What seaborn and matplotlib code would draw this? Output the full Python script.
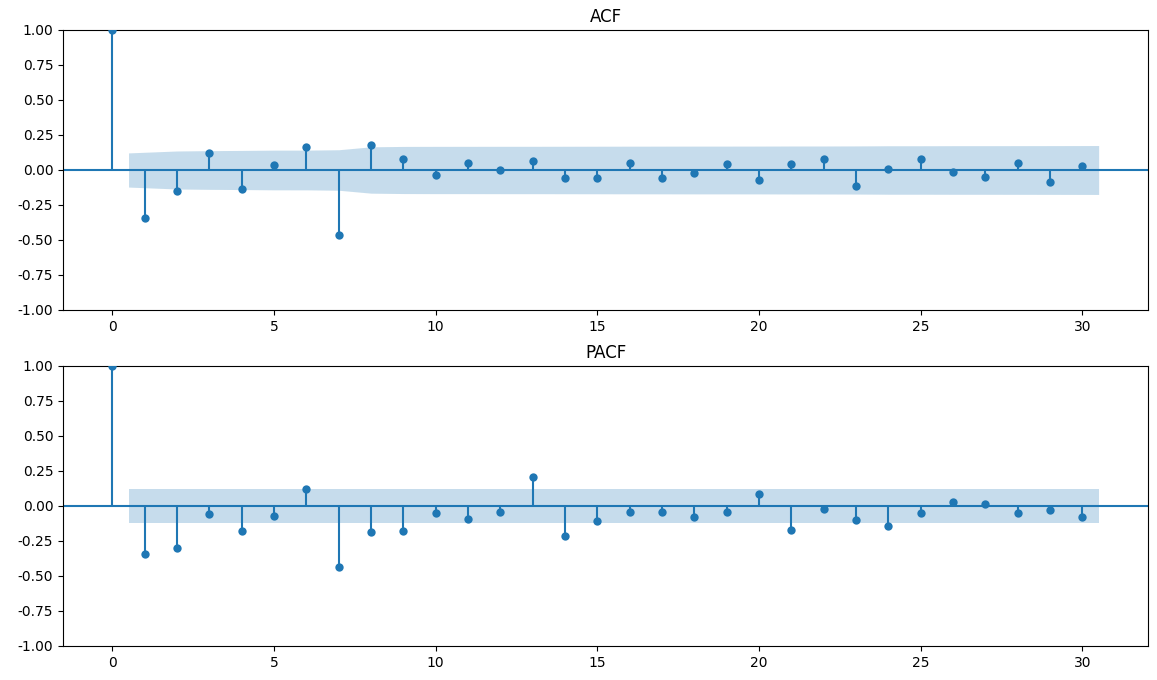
import numpy as np
import pandas as pd
import matplotlib
matplotlib.use("Agg")
import matplotlib.pyplot as plt
import seaborn as sns

# values (lag 0 .. 30)
lags = list(range(31))
acf_vals = [1.0, -0.345, -0.152, 0.119, -0.138, 0.033, 0.162, -0.467, 0.176, 0.076,
            -0.038, 0.048, -0.002, 0.062, -0.059, -0.059, 0.048, -0.059, -0.024, 0.041,
            -0.074, 0.041, 0.076, -0.117, 0.005, 0.076, -0.017, -0.052, 0.048, -0.088,
            0.026]
pacf_vals = [1.0, -0.345, -0.302, -0.060, -0.181, -0.074, 0.119, -0.438, -0.188, -0.181,
             -0.052, -0.095, -0.045, 0.205, -0.217, -0.110, -0.045, -0.045, -0.081, -0.045,
             0.083, -0.174, -0.024, -0.102, -0.145, -0.052, 0.026, 0.012, -0.052, -0.031,
             -0.081]
nobs = 258
titles = ["ACF", "PACF"]

color = "#1f77b4"


def band_acf(vals, n):
    # Bartlett formula as used by statsmodels plot_acf
    v = np.ones(len(vals)) / n
    v[0] = 0
    v[2:] *= 1 + 2 * np.cumsum(np.array(vals[1:-1]) ** 2)
    return 1.96 * np.sqrt(v)


def band_pacf(vals, n):
    return np.full(len(vals), 1.96 / np.sqrt(n))


def draw(ax, vals, band, title):
    df = pd.DataFrame({"lag": lags, "value": vals})
    ax.vlines(df["lag"], 0, df["value"], color=color, linewidth=1.5)
    sns.scatterplot(data=df, x="lag", y="value", ax=ax, color=color, s=36,
                    linewidth=0, zorder=3)
    x = np.array(lags[1:], dtype=float)
    x[0] -= 0.5
    x[-1] += 0.5
    ax.fill_between(x, -band[1:], band[1:], color=color, alpha=0.25, linewidth=0)
    ax.axhline(0, color=color, linewidth=1.5)
    ax.margins(0.05)
    ax.set_ylim(-1, 1)
    ax.set_yticks(np.arange(-1, 1.01, 0.25))
    ax.yaxis.set_major_formatter(matplotlib.ticker.FormatStrFormatter("%.2f"))
    ax.set_title(title, fontsize=12)
    ax.set_xlabel("")
    ax.set_ylabel("")


fig, axes = plt.subplots(2, 1, figsize=(11.57, 6.8), dpi=100)
fig.subplots_adjust(left=0.0545, right=0.9922, top=0.9559, bottom=0.05, hspace=0.2)

draw(axes[0], acf_vals, band_acf(acf_vals, nobs), titles[0])
draw(axes[1], pacf_vals, band_pacf(pacf_vals, nobs), titles[1])

fig.savefig("out.png", dpi=100)
